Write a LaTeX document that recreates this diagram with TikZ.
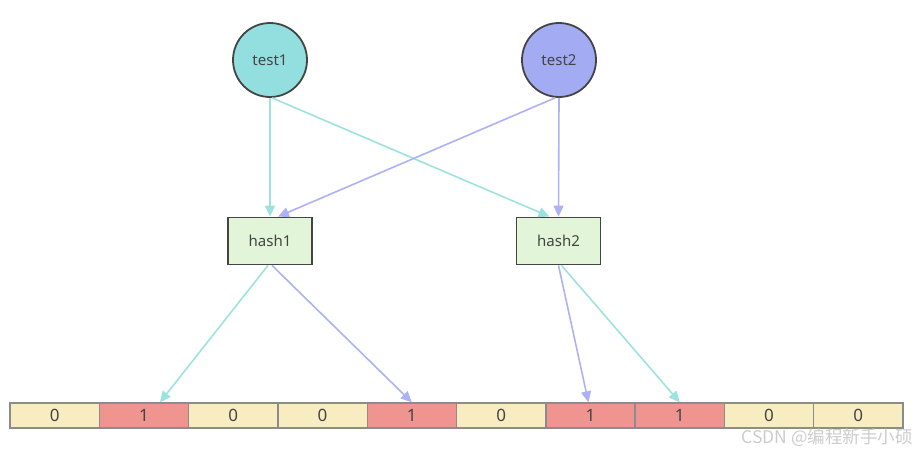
\documentclass[tikz,border=0pt]{standalone}
\usepackage{fontspec}
\setmainfont{Noto Sans}
\newfontfamily\cjk{Noto Sans CJK SC}
\usetikzlibrary{arrows.meta}

\definecolor{testa}{HTML}{93DFE0}
\definecolor{testb}{HTML}{A3ABF2}
\definecolor{linka}{HTML}{9CE3DF}
\definecolor{linkb}{HTML}{ACB2F5}
\definecolor{hashfill}{HTML}{E3F5D8}
\definecolor{zerofill}{HTML}{F7EDC0}
\definecolor{onefill}{HTML}{F09490}
\definecolor{txt}{HTML}{444444}

\begin{document}
\begin{tikzpicture}[x=1pt,y=-1pt,
	every node/.style={text=txt,font=\fontsize{15}{17}\selectfont},
	testnode/.style={circle,draw=txt,line width=1.8pt,minimum size=74pt,inner sep=0pt},
	hashnode/.style={rectangle,draw=txt,line width=1.8pt,fill=hashfill,minimum width=84pt,minimum height=47pt,inner sep=0pt},
	bitcell/.style={rectangle,draw=black!45,line width=1.4pt,minimum width=89.3pt,minimum height=25pt,inner sep=0pt,font=\fontsize{17}{19}\selectfont},
	linkA/.style={draw=linka,line width=1.6pt,-{Triangle[length=11pt,width=10pt]}},
	linkB/.style={draw=linkb,line width=1.6pt,-{Triangle[length=11pt,width=10pt]}}]
	\useasboundingbox (0,0) rectangle (918,450);
	
	\node[testnode,fill=testa] (t1) at (270,60) {test1};
	\node[testnode,fill=testb] (t2) at (559,60) {test2};
	
	\node[hashnode] (h1) at (270,241) {hash1};
	\node[hashnode] (h2) at (558.5,241) {hash2};
	
	% bit array
	\foreach \b [count=\i] in {0,1,0,0,1,0,1,1,0,0} {
		\ifnum\b=1 \def\cellfill{onefill}\else \def\cellfill{zerofill}\fi
		\node[bitcell,fill=\cellfill] (c\i) at ({10+89.3*(\i-0.5)},415.5) {\b};
	}
	
	\draw[linkA] (t1.south) -- (h1.north);
	\draw[linkA] ([xshift=2pt]t1.south) -- ([xshift=-9pt]h2.north);
	\draw[linkB] (t2.south) -- (h2.north);
	\draw[linkB] ([xshift=-4pt]t2.south) -- ([xshift=8pt]h1.north);
	
	\draw[linkA] ([xshift=-2pt]h1.south) -- ([xshift=16pt]c2.north);
	\draw[linkB] ([xshift=2pt]h1.south) -- (c5.north);
	\draw[linkB] (h2.south) -- ([xshift=-2pt]c7.north);
	\draw[linkA] ([xshift=3pt]h2.south) -- (c8.north);
	
	\node[anchor=east,inner sep=0pt,text=black!20,font=\fontsize{17.5}{19}\cjk] (wm) at (913,438) {CSDN @编程新手小硕};
\end{tikzpicture}
\end{document}
